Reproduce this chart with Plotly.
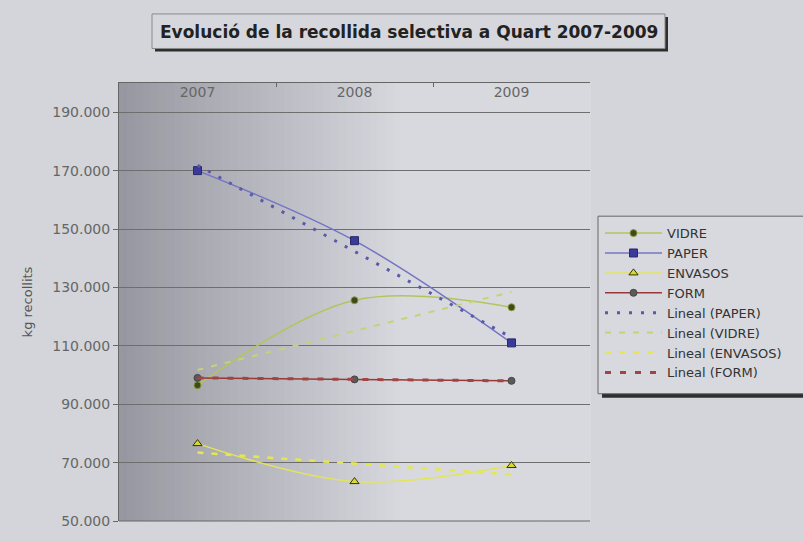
import numpy as np
import plotly.graph_objects as go

# ---- data ----
years = ["2007", "2008", "2009"]
vidre = [96500, 125600, 123200]
paper = [170000, 146000, 111000]
envasos = [76500, 63500, 69000]
form = [99000, 98500, 98000]
y_ticks = [50000, 70000, 90000, 110000, 130000, 150000, 170000, 190000]

title_text = "Evolució de la recollida selectiva a Quart 2007-2009"
y_title = "kg recollits"

# ---- layout helpers (pixel -> paper) ----
W, H = 803, 541
L, R, T, B = 119, 590, 83, 527


def px_x(x):
    return (x - L) / (R - L)


def px_y(y):
    return (B - y) / (B - T)


def trend(vals):
    xs = np.arange(len(vals))
    k, b = np.polyfit(xs, vals, 1)
    return list(k * xs + b)


fig = go.Figure()

series = [
    ("VIDRE", vidre, dict(color="#b4c45c", width=1.5),
     dict(symbol="circle", size=7, color="#3d4a1c", line=dict(color="#8a9a40", width=1))),
    ("PAPER", paper, dict(color="#7474c4", width=1.5),
     dict(symbol="square", size=8, color="#3a3a9a", line=dict(color="#2a2a6a", width=1))),
    ("ENVASOS", envasos, dict(color="#e4e45a", width=1.5),
     dict(symbol="triangle-up", size=8, color="#d8d830", line=dict(color="#333300", width=1))),
    ("FORM", form, dict(color="#983838", width=1.5),
     dict(symbol="circle", size=7, color="#5a5a5a", line=dict(color="#444", width=1))),
]
for name, vals, ln, mk in series:
    fig.add_trace(go.Scatter(x=years, y=vals, name=name, mode="lines+markers",
                             line=dict(shape="spline", **ln), marker=mk))

trends = [
    ("Lineal (PAPER)", paper, dict(color="#5a5aa8", width=3, dash="3px,9px")),
    ("Lineal (VIDRE)", vidre, dict(color="#c4d27a", width=2, dash="6px,8px")),
    ("Lineal (ENVASOS)", envasos, dict(color="#e6e650", width=2.5, dash="6px,8px")),
    ("Lineal (FORM)", form, dict(color="#a04444", width=3, dash="6px,9px")),
]
for name, vals, ln in trends:
    fig.add_trace(go.Scatter(x=years, y=trend(vals), name=name, mode="lines", line=ln))

# ---- shapes: gradient plot background, title box, legend box ----
shapes = []
n = 60
c0 = np.array([150, 151, 160])
c1 = np.array([216, 217, 223])
for i in range(n):
    f = (i + 0.5) / n
    t = min(f / 0.6, 1.0)
    c = (c0 + (c1 - c0) * t).astype(int)
    shapes.append(dict(type="rect", xref="paper", yref="paper", x0=i / n, x1=(i + 1) / n + 0.002,
                       y0=0, y1=1, fillcolor=f"rgb({c[0]},{c[1]},{c[2]})", line=dict(width=0),
                       layer="below"))
# title box shadow + box
shapes.append(dict(type="rect", xref="paper", yref="paper", x0=px_x(155), x1=px_x(668),
                   y0=px_y(51), y1=px_y(16), fillcolor="#2e2e2e", line=dict(width=0)))
shapes.append(dict(type="rect", xref="paper", yref="paper", x0=px_x(152), x1=px_x(665),
                   y0=px_y(48), y1=px_y(13), fillcolor="#d6d7dc", line=dict(color="#8a8a8a", width=1)))
# legend box shadow + box
shapes.append(dict(type="rect", xref="paper", yref="paper", x0=px_x(602), x1=px_x(812),
                   y0=px_y(402), y1=px_y(222), fillcolor="#2e2e2e", line=dict(width=0)))
shapes.append(dict(type="rect", xref="paper", yref="paper", x0=px_x(598), x1=px_x(810),
                   y0=px_y(398), y1=px_y(218), fillcolor="#d8d9de", line=dict(color="#666", width=1)))
# bottom axis line
shapes.append(dict(type="line", xref="paper", yref="paper", x0=0, x1=1, y0=0, y1=0,
                   line=dict(color="#666", width=1)))

fig.update_layout(
    width=W, height=H,
    margin=dict(l=L, r=W - R, t=T, b=H - B),
    paper_bgcolor="#d3d5da",
    plot_bgcolor="rgba(0,0,0,0)",
    separators=",.",
    font=dict(family="DejaVu Sans", color="#555"),
    shapes=shapes,
    showlegend=True,
    legend=dict(x=px_x(600), y=px_y(220), xanchor="left", yanchor="top",
                bgcolor="rgba(0,0,0,0)", borderwidth=0, itemwidth=57,
                font=dict(size=13, color="#333", family="DejaVu Sans"),
                tracegroupgap=0),
    annotations=[dict(text="<b>" + title_text + "</b>", xref="paper", yref="paper",
                      x=px_x(408.5), y=px_y(31), xanchor="center", yanchor="middle",
                      showarrow=False, font=dict(size=17, color="#222", family="DejaVu Sans"))],
    xaxis=dict(type="category", categoryorder="array", categoryarray=years,
               range=[-0.5, 2.5], side="top", ticklabelposition="inside",
               ticks="inside", ticklen=4, tickcolor="#666", tickson="boundaries",
               showline=True, linecolor="#666", linewidth=1, showgrid=False,
               tickfont=dict(size=14, color="#666")),
    yaxis=dict(range=[50000, 200000], tickvals=y_ticks, tickformat=",.0f",
               showgrid=True, gridcolor="#6e6e6e", gridwidth=1,
               showline=True, linecolor="#666", linewidth=1,
               ticks="outside", ticklen=5, tickcolor="#666",
               tickfont=dict(size=14, color="#666"), zeroline=False,
               title=dict(text=y_title, font=dict(size=13, color="#555"), standoff=16)),
)

fig.write_html("out.html", config={"displayModeBar": False},
               post_script="document.body.style.margin='0';")
